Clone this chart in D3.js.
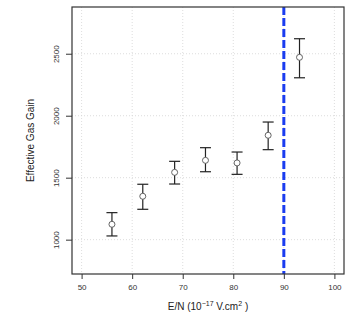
<!DOCTYPE html>
<html>
<head>
<meta charset="utf-8">
<script src="https://cdn.jsdelivr.net/npm/d3@7"></script>
<style>
  body { margin: 0; background: #fff; }
  svg { font-family: "Liberation Sans", Arial, sans-serif; }
</style>
</head>
<body>
<div id="chart"></div>
<script>
// E/N values and measured gain with error bars
const fieldValues = [56, 62.1, 68.4, 74.5, 80.75, 86.9, 93.1];
const gainValues = [1124, 1350, 1543, 1640, 1619, 1842, 2471];
const gainLow = [1030, 1245, 1449, 1548, 1527, 1726, 2306];
const gainHigh = [1218, 1447, 1632, 1742, 1707, 1949, 2621];
const xTicks = [50, 60, 70, 80, 90, 100];
const yTicks = [1000, 1500, 2000, 2500];
const cutoffLine = [90];

const w = 355, h = 320;
const margin = { top: 7, right: 11, bottom: 46, left: 72 };
const width = w - margin.left - margin.right;
const height = h - margin.top - margin.bottom;

const svg = d3.select("#chart").append("svg")
  .attr("width", w)
  .attr("height", h)
  .append("g")
  .attr("transform", `translate(${margin.left},${margin.top})`);

const x = d3.scaleLinear().domain([48.1, 101.9]).range([0, width]);
const y = d3.scaleLinear().domain([723, 2877]).range([height, 0]);

// dotted grid
svg.append("g").selectAll("line")
  .data(xTicks)
  .enter().append("line")
  .attr("x1", d => x(d)).attr("x2", d => x(d))
  .attr("y1", 0).attr("y2", height)
  .attr("stroke", "#d4d4d4").attr("stroke-width", 0.8)
  .attr("stroke-dasharray", "1,2");

svg.append("g").selectAll("line")
  .data(yTicks)
  .enter().append("line")
  .attr("x1", 0).attr("x2", width)
  .attr("y1", d => y(d)).attr("y2", d => y(d))
  .attr("stroke", "#d4d4d4").attr("stroke-width", 0.8)
  .attr("stroke-dasharray", "1,2");

// dashed blue line at 90
svg.selectAll(".cut")
  .data(cutoffLine)
  .enter().append("line")
  .attr("class", "cut")
  .attr("x1", d => x(d)).attr("x2", d => x(d))
  .attr("y1", 0).attr("y2", height)
  .attr("stroke", "#1a3cf0").attr("stroke-width", 3)
  .attr("stroke-dasharray", "8,3");

// error bars
const pts = fieldValues.map((v, i) => ({ x: v, y: gainValues[i], lo: gainLow[i], hi: gainHigh[i] }));
const capW = 5.5;
const bars = svg.append("g").attr("stroke", "#222").attr("stroke-width", 1.2);
bars.selectAll(".v").data(pts).enter().append("line")
  .attr("x1", d => x(d.x)).attr("x2", d => x(d.x))
  .attr("y1", d => y(d.lo)).attr("y2", d => y(d.y) + 3);
bars.selectAll(".v2").data(pts).enter().append("line")
  .attr("x1", d => x(d.x)).attr("x2", d => x(d.x))
  .attr("y1", d => y(d.y) - 3).attr("y2", d => y(d.hi));
bars.selectAll(".top").data(pts).enter().append("line")
  .attr("x1", d => x(d.x) - capW).attr("x2", d => x(d.x) + capW)
  .attr("y1", d => y(d.hi)).attr("y2", d => y(d.hi));
bars.selectAll(".bot").data(pts).enter().append("line")
  .attr("x1", d => x(d.x) - capW).attr("x2", d => x(d.x) + capW)
  .attr("y1", d => y(d.lo)).attr("y2", d => y(d.lo));

svg.selectAll("circle").data(pts).enter().append("circle")
  .attr("cx", d => x(d.x)).attr("cy", d => y(d.y))
  .attr("r", 3)
  .attr("fill", "none").attr("stroke", "#555").attr("stroke-width", 0.9);

// box
svg.append("rect")
  .attr("width", width).attr("height", height)
  .attr("fill", "none").attr("stroke", "#333").attr("stroke-width", 1.2);

// axes
const xAxis = svg.append("g")
  .attr("transform", `translate(0,${height})`)
  .call(d3.axisBottom(x).tickValues(xTicks).tickSize(5).tickPadding(5));
xAxis.select(".domain").remove();
xAxis.selectAll("line").attr("stroke", "#333");
xAxis.selectAll("text").attr("font-size", "8px").attr("fill", "#333")
  .attr("font-family", "Liberation Sans, Arial, sans-serif");

const yAxis = svg.append("g")
  .call(d3.axisLeft(y).tickValues(yTicks).tickFormat(d3.format("d")).tickSize(6).tickPadding(0));
yAxis.select(".domain").remove();
yAxis.selectAll("line").attr("stroke", "#333");
yAxis.selectAll("text")
  .attr("font-size", "8px").attr("fill", "#333")
  .attr("font-family", "Liberation Sans, Arial, sans-serif")
  .attr("text-anchor", "middle")
  .attr("x", null).attr("dy", null)
  .attr("transform", "translate(-13,0) rotate(-90)");

// axis titles
const xLabel = svg.append("text")
  .attr("text-anchor", "middle")
  .attr("x", width / 2)
  .attr("y", height + 36)
  .attr("font-size", "10px")
  .attr("fill", "#222");
xLabel.append("tspan").text("E/N (10");
xLabel.append("tspan").attr("dy", -4).attr("font-size", "7px").text("\u221217");
xLabel.append("tspan").attr("dy", 4).text(" V.cm");
xLabel.append("tspan").attr("dy", -4).attr("font-size", "7px").text("2");
xLabel.append("tspan").attr("dy", 4).text(" )");

svg.append("text")
  .attr("text-anchor", "middle")
  .attr("transform", `translate(-38,${height / 2}) rotate(-90)`)
  .attr("font-size", "10px")
  .attr("fill", "#222")
  .text("Effective Gas Gain");
</script>
</body>
</html>
